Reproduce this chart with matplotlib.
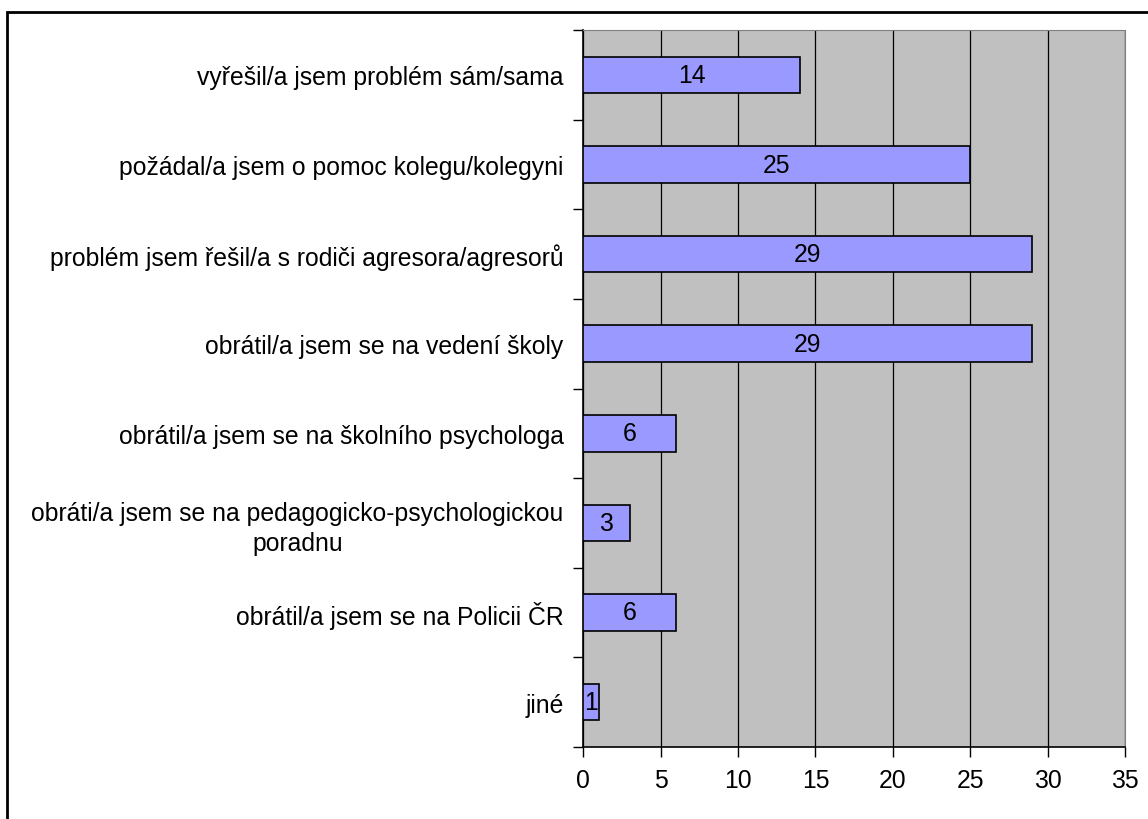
import matplotlib.pyplot as plt
from matplotlib.patches import Rectangle
from matplotlib.ticker import FixedLocator, NullFormatter

plt.rcParams['font.family'] = ['Liberation Sans', 'DejaVu Sans']

categories = ['vyřešil/a jsem problém sám/sama',
              'požádal/a jsem o pomoc kolegu/kolegyni',
              'problém jsem řešil/a s rodiči agresora/agresorů',
              'obrátil/a jsem se na vedení školy',
              'obrátil/a jsem se na školního psychologa',
              'obráti/a jsem se na pedagogicko-psychologickou\nporadnu',
              'obrátil/a jsem se na Policii ČR',
              'jiné']
values = [14, 25, 29, 29, 6, 3, 6, 1]
xticks = [0, 5, 10, 15, 20, 25, 30, 35]

fs = 17.8

fig = plt.figure(figsize=(11.48, 8.2), dpi=100)
ax = fig.add_axes([0.508, 0.088, 0.472, 0.874])

ypos = list(range(len(categories)))
ax.barh(ypos, values, height=0.41, color='#9999FF', edgecolor='black', linewidth=1.2, zorder=3)
for y, v in zip(ypos, values):
    ax.text(v / 2, y, str(v), ha='center', va='center', fontsize=fs, zorder=4)

ax.set_xlim(0, 35)
ax.set_ylim(len(categories) - 0.5, -0.5)
ax.set_facecolor('#C0C0C0')
ax.set_xticks(xticks)
ax.xaxis.grid(True, color='black', linewidth=0.9, zorder=1)
ax.set_axisbelow(True)

ax.set_yticks(ypos)
ax.set_yticklabels(categories, fontsize=fs, multialignment='center', linespacing=1.3)
ax.tick_params(axis='y', which='major', length=0, pad=14)
ax.yaxis.set_minor_locator(FixedLocator([i - 0.5 for i in range(len(categories) + 1)]))
ax.yaxis.set_minor_formatter(NullFormatter())
ax.tick_params(axis='y', which='minor', length=7, width=1)
ax.tick_params(axis='x', length=7, width=1, labelsize=fs, pad=8)

for s in ['top', 'right']:
    ax.spines[s].set_color('#808080')
for s in ['left', 'bottom']:
    ax.spines[s].set_color('black')
    ax.spines[s].set_linewidth(1.2)

# outer chart border (only top and left edges fall inside the image)
fig.patches.append(Rectangle((7 / 1148, -20 / 820), 1160 / 1148, 827 / 820,
                             transform=fig.transFigure, fill=False,
                             edgecolor='black', linewidth=2))

fig.savefig('out.png', dpi=100)
